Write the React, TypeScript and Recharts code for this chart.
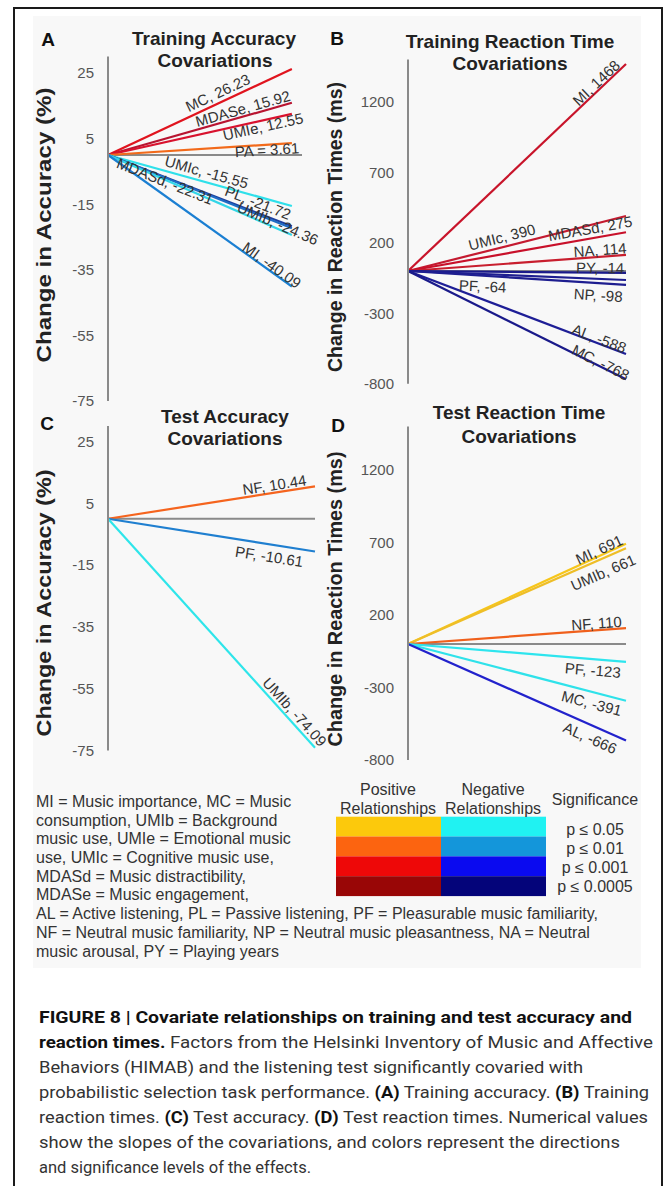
import React from 'react';
import { LineChart, Line, XAxis, YAxis, ReferenceLine } from 'recharts';

// tick labels
const accTicks = [25, 5, -15, -35, -55, -75];
const rtTicks = [1200, 700, 200, -300, -800];

// A: training accuracy covariations (slopes)
const aNames = ['MC', 'MDASe', 'UMIe', 'PA', 'UMIc', 'PL', 'MDASd', 'UMIb', 'MI'];
const aSlopes = [26.23, 15.92, 12.55, 3.61, -15.55, -21.72, -22.31, -24.36, -40.09];
const aLabels = ['MC, 26.23', 'MDASe, 15.92', 'UMIe, 12.55', 'PA = 3.61', 'UMIc, -15.55', 'PL, -21.72', 'MDASd, -22.31', 'UMIb, -24.36', 'MI, -40.09'];

// B: training reaction time covariations
const bNames = ['MI', 'UMIc', 'MDASd', 'NA', 'PY', 'PF', 'NP', 'AL', 'MC'];
const bSlopes = [1468, 390, 275, 114, -14, -64, -98, -588, -768];
const bLabels = ['MI, 1468', 'UMIc, 390', 'MDASd, 275', 'NA, 114', 'PY, -14', 'PF, -64', 'NP, -98', 'AL, -588', 'MC, -768'];

// C: test accuracy covariations
const cNames = ['NF', 'PF', 'UMIb'];
const cSlopes = [10.44, -10.61, -74.09];
const cLabels = ['NF, 10.44', 'PF, -10.61', 'UMIb, -74.09'];

// D: test reaction time covariations
const dNames = ['MI', 'UMIb', 'NF', 'PF', 'MC', 'AL'];
const dSlopes = [691, 661, 110, -123, -391, -666];
const dLabels = ['MI, 691', 'UMIb, 661', 'NF, 110', 'PF, -123', 'MC, -391', 'AL, -666'];

// colours (direction + significance)
const aColors = ['#e0141e', '#b81430', '#d8122e', '#f26a1b', '#2fe0ea', '#1d3f9e', '#1f6cc4', '#33d6e8', '#1b7fd2'];
const bColors = ['#c8142a', '#c41a30', '#c8102a', '#c81e2e', '#1a1a8a', '#1e1e90', '#1e1e90', '#1e1e96', '#1a1a8a'];
const cColors = ['#f5641e', '#1f7fd0', '#2ee5ea'];
const dColors = ['#f7c61a', '#eebe28', '#f0601c', '#2ee5ee', '#2fe2ea', '#2222cc'];

// where the slope labels sit: fraction along the line, px above (+) / below (-)
const aLabelT = [0.62, 0.745, 0.836, 0.863, 0.522, 0.796, 0.317, 0.913, 0.873];
const aLabelOff = [10, 8, -6, -5, 10, 10, -3, 5, 6];
const bLabelT = [0.885, 0.442, 0.844, 0.883, 0.881, 0.345, 0.876, 0.869, 0.876];
const bLabelOff = [7, 10, 10, 7, 5, -12, -12, 5, 4];
const cLabelT = [0.81, 0.788, 0.87];
const cLabelOff = [8, -12, 9];
const dLabelT = [0.888, 0.871, 0.867, 0.852, 0.855, 0.858];
const dLabelOff = [6, -13, 7, -11, -11, -12];

const legendLines = [
  'MI = Music importance, MC = Music',
  'consumption, UMIb = Background',
  'music use, UMIe = Emotional music',
  'use, UMIc = Cognitive music use,',
  'MDASd = Music distractibility,',
  'MDASe = Music engagement,',
  'AL = Active listening, PL = Passive listening, PF = Pleasurable music familiarity,',
  'NF = Neutral music familiarity, NP = Neutral music pleasantness, NA = Neutral',
  'music arousal, PY = Playing years',
];
const posColors = ['#fcc90c', '#fc6410', '#ee0808', '#990606'];
const negColors = ['#20f2f2', '#1496da', '#0a0af0', '#04047a'];
const sigLabels = ['p ≤ 0.05', 'p ≤ 0.01', 'p ≤ 0.001', 'p ≤ 0.0005'];

const FONT = '"Liberation Sans", Arial, sans-serif';

const toRows = (names: string[], slopes: number[]) => {
  const start: any = { x: 0 };
  const end: any = { x: 1 };
  names.forEach((n, i) => {
    start[n] = 0;
    end[n] = slopes[i];
  });
  return [start, end];
};

const makeLabelDot = (text: string, t: number, off: number) => {
  let origin: any = null;
  return (p: any) => {
    if (p.index === 0) {
      origin = { x: p.cx, y: p.cy };
      return <g key={`d0-${text}`} />;
    }
    const a = (p.points && p.points[0]) || origin;
    if (!a) return <g key={`d1-${text}`} />;
    const dx = p.cx - a.x;
    const dy = p.cy - a.y;
    const len = Math.hypot(dx, dy) || 1;
    const cx = a.x + dx * t + (dy / len) * off;
    const cy = a.y + dy * t - (dx / len) * off;
    const ang = (Math.atan2(dy, dx) * 180) / Math.PI;
    return (
      <text
        key={`d1-${text}`}
        x={cx}
        y={cy}
        textAnchor="middle"
        dominantBaseline="central"
        fontSize={15}
        fill="#333"
        fontFamily={FONT}
        transform={`rotate(${ang} ${cx} ${cy})`}
      >
        {text}
      </text>
    );
  };
};

interface PanelProps {
  names: string[];
  slopes: number[];
  labels: string[];
  colors: string[];
  labelT: number[];
  labelOff: number[];
  ticks: number[];
  domain: [number, number];
  xMax: number;
  left: number;
  top: number;
  width: number;
  height: number;
  margin: { top: number; right: number; bottom: number; left: number };
}

const Panel: React.FC<PanelProps> = (p) => {
  const data = toRows(p.names, p.slopes);
  return (
    <div style={{ position: 'absolute', left: p.left, top: p.top }}>
      <LineChart width={p.width} height={p.height} data={data} margin={p.margin} style={{ overflow: 'visible' }}>
        <XAxis type="number" dataKey="x" domain={[0, p.xMax]} hide />
        <YAxis
          type="number"
          domain={p.domain}
          ticks={p.ticks}
          interval={0}
          width={88}
          tickLine={false}
          tickSize={0}
          tickMargin={14}
          axisLine={{ stroke: '#8a8a8a', strokeWidth: 2 }}
          tick={{ fill: '#555', fontSize: 15, fontFamily: FONT }}
        />
        <ReferenceLine y={0} stroke="#8a8a8a" strokeWidth={2} />
        {p.names.map((n, i) => (
          <Line
            key={n}
            type="linear"
            dataKey={n}
            stroke={p.colors[i]}
            strokeWidth={2.2}
            dot={makeLabelDot(p.labels[i], p.labelT[i], p.labelOff[i])}
            activeDot={false}
            isAnimationActive={false}
          />
        ))}
      </LineChart>
    </div>
  );
};

const captionLines: { parts: [string, boolean][]; w: number }[] = [
  { parts: [['FIGURE 8 | Covariate relationships on training and test accuracy and', true]], w: 593 },
  { parts: [['reaction times.', true], [' Factors from the Helsinki Inventory of Music and Affective', false]], w: 614 },
  { parts: [['Behaviors (HIMAB) and the listening test significantly covaried with', false]], w: 544 },
  { parts: [['probabilistic selection task performance. ', false], ['(A)', true], [' Training accuracy. ', false], ['(B)', true], [' Training', false]], w: 610 },
  { parts: [['reaction times. ', false], ['(C)', true], [' Test accuracy. ', false], ['(D)', true], [' Test reaction times. Numerical values', false]], w: 609 },
  { parts: [['show the slopes of the covariations, and colors represent the directions', false]], w: 581 },
  { parts: [['and significance levels of the effects.', false]], w: 272 },
];
const captionY = [1017, 1042, 1067, 1092, 1117, 1142, 1167];
const legendY = [801.7, 820, 838.5, 857.3, 876, 894.5, 913.3, 932.3, 951];
const sigY = [829.3, 848.3, 867.7, 886.7];

const App: React.FC = () => {
  const titleStyle = { fontSize: 19, fontWeight: 700, fill: '#222', fontFamily: FONT };
  return (
    <div style={{ position: 'absolute', left: 0, top: 0, width: 671, height: 1186, background: '#fff', overflow: 'hidden', fontFamily: FONT }}>
      <div style={{ position: 'absolute', left: 13, top: 7, width: 650, height: 1200, boxSizing: 'border-box', border: '2px solid #1a1a1a' }} />
      <div style={{ position: 'absolute', left: 33, top: 16, width: 608, height: 952, background: '#f8f8f8' }} />

      <Panel names={aNames} slopes={aSlopes} labels={aLabels} colors={aColors} labelT={aLabelT} labelOff={aLabelOff}
        ticks={accTicks} domain={[-75, 30]} xMax={1.055}
        left={20} top={20} width={320} height={390} margin={{ top: 36.6, right: 38, bottom: 9, left: 0 }} />
      <Panel names={bNames} slopes={bSlopes} labels={bLabels} colors={bColors} labelT={bLabelT} labelOff={bLabelOff}
        ticks={rtTicks} domain={[-800, 1500]} xMax={1}
        left={320} top={20} width={340} height={380} margin={{ top: 39.5, right: 34, bottom: 16.2, left: 0 }} />
      <Panel names={cNames} slopes={cSlopes} labels={cLabels} colors={cColors} labelT={cLabelT} labelOff={cLabelOff}
        ticks={accTicks} domain={[-75, 30]} xMax={1}
        left={20} top={400} width={340} height={370} margin={{ top: 26, right: 45, bottom: 19.5, left: 0 }} />
      <Panel names={dNames} slopes={dSlopes} labels={dLabels} colors={dColors} labelT={dLabelT} labelOff={dLabelOff}
        ticks={rtTicks} domain={[-800, 1500]} xMax={1}
        left={320} top={400} width={340} height={380} margin={{ top: 26.5, right: 34, bottom: 20, left: 0 }} />

      <svg width={671} height={1186} style={{ position: 'absolute', left: 0, top: 0, pointerEvents: 'none' }}>
        {/* panel letters and titles */}
        <g dominantBaseline="central" textAnchor="middle" style={{ fontFamily: FONT }}>
          <text x={48} y={39} {...titleStyle} fill="#111">A</text>
          <text x={337} y={38} {...titleStyle} fill="#111">B</text>
          <text x={47} y={423} {...titleStyle} fill="#111">C</text>
          <text x={338} y={425} {...titleStyle} fill="#111">D</text>
          <text x={214} y={38} {...titleStyle}>Training Accuracy</text>
          <text x={215} y={60} {...titleStyle}>Covariations</text>
          <text x={510} y={41} {...titleStyle}>Training Reaction Time</text>
          <text x={510} y={63} {...titleStyle}>Covariations</text>
          <text x={225} y={416} {...titleStyle}>Test Accuracy</text>
          <text x={225} y={438} {...titleStyle}>Covariations</text>
          <text x={519} y={412} {...titleStyle}>Test Reaction Time</text>
          <text x={519} y={436} {...titleStyle}>Covariations</text>
        </g>
        {/* y axis titles */}
        <g dominantBaseline="central" textAnchor="middle" fontWeight={700} fontSize={20} fill="#222" fontFamily={FONT}>
          <text x={44} y={225} textLength={275} lengthAdjust="spacingAndGlyphs" transform="rotate(-90 44 225)">Change in Accuracy (%)</text>
          <text x={335} y={227} textLength={290} lengthAdjust="spacingAndGlyphs" transform="rotate(-90 335 227)">Change in Reaction Times (ms)</text>
          <text x={44} y={603} textLength={267} lengthAdjust="spacingAndGlyphs" transform="rotate(-90 44 603)">Change in Accuracy (%)</text>
          <text x={335} y={599} textLength={295} lengthAdjust="spacingAndGlyphs" transform="rotate(-90 335 599)">Change in Reaction Times (ms)</text>
        </g>

        {/* abbreviations */}
        <g dominantBaseline="central" fontSize={16} fill="#333" fontFamily={FONT}>
          {legendLines.map((l, i) => (
            <text key={i} x={36} y={legendY[i]}>{l}</text>
          ))}
        </g>

        {/* colour key */}
        {posColors.map((c, i) => (
          <rect key={`p${i}`} x={336} y={816.7 + i * 19.83} width={105} height={19.9} fill={c} />
        ))}
        {negColors.map((c, i) => (
          <rect key={`n${i}`} x={441} y={816.7 + i * 19.83} width={105} height={19.9} fill={c} />
        ))}
        <g dominantBaseline="central" textAnchor="middle" fontSize={16} fill="#333" fontFamily={FONT}>
          <text x={388} y={789}>Positive</text>
          <text x={388} y={808}>Relationships</text>
          <text x={493} y={789}>Negative</text>
          <text x={493} y={808}>Relationships</text>
          <text x={595} y={799}>Significance</text>
          {sigLabels.map((s, i) => (
            <text key={s} x={595} y={sigY[i]}>{s}</text>
          ))}
        </g>

        {/* caption */}
        <g dominantBaseline="central" fontSize={16} fill="#333" fontFamily="Roboto, 'Liberation Sans', sans-serif">
          {captionLines.map((ln, i) => (
            <text key={i} x={39} y={captionY[i]} textLength={ln.w} lengthAdjust="spacingAndGlyphs">
              {ln.parts.map(([s, b], j) => (
                <tspan key={j} fontWeight={b ? 700 : 400} fill={b ? '#111' : '#333'}>{s}</tspan>
              ))}
            </text>
          ))}
        </g>
      </svg>
    </div>
  );
};

export default App;
